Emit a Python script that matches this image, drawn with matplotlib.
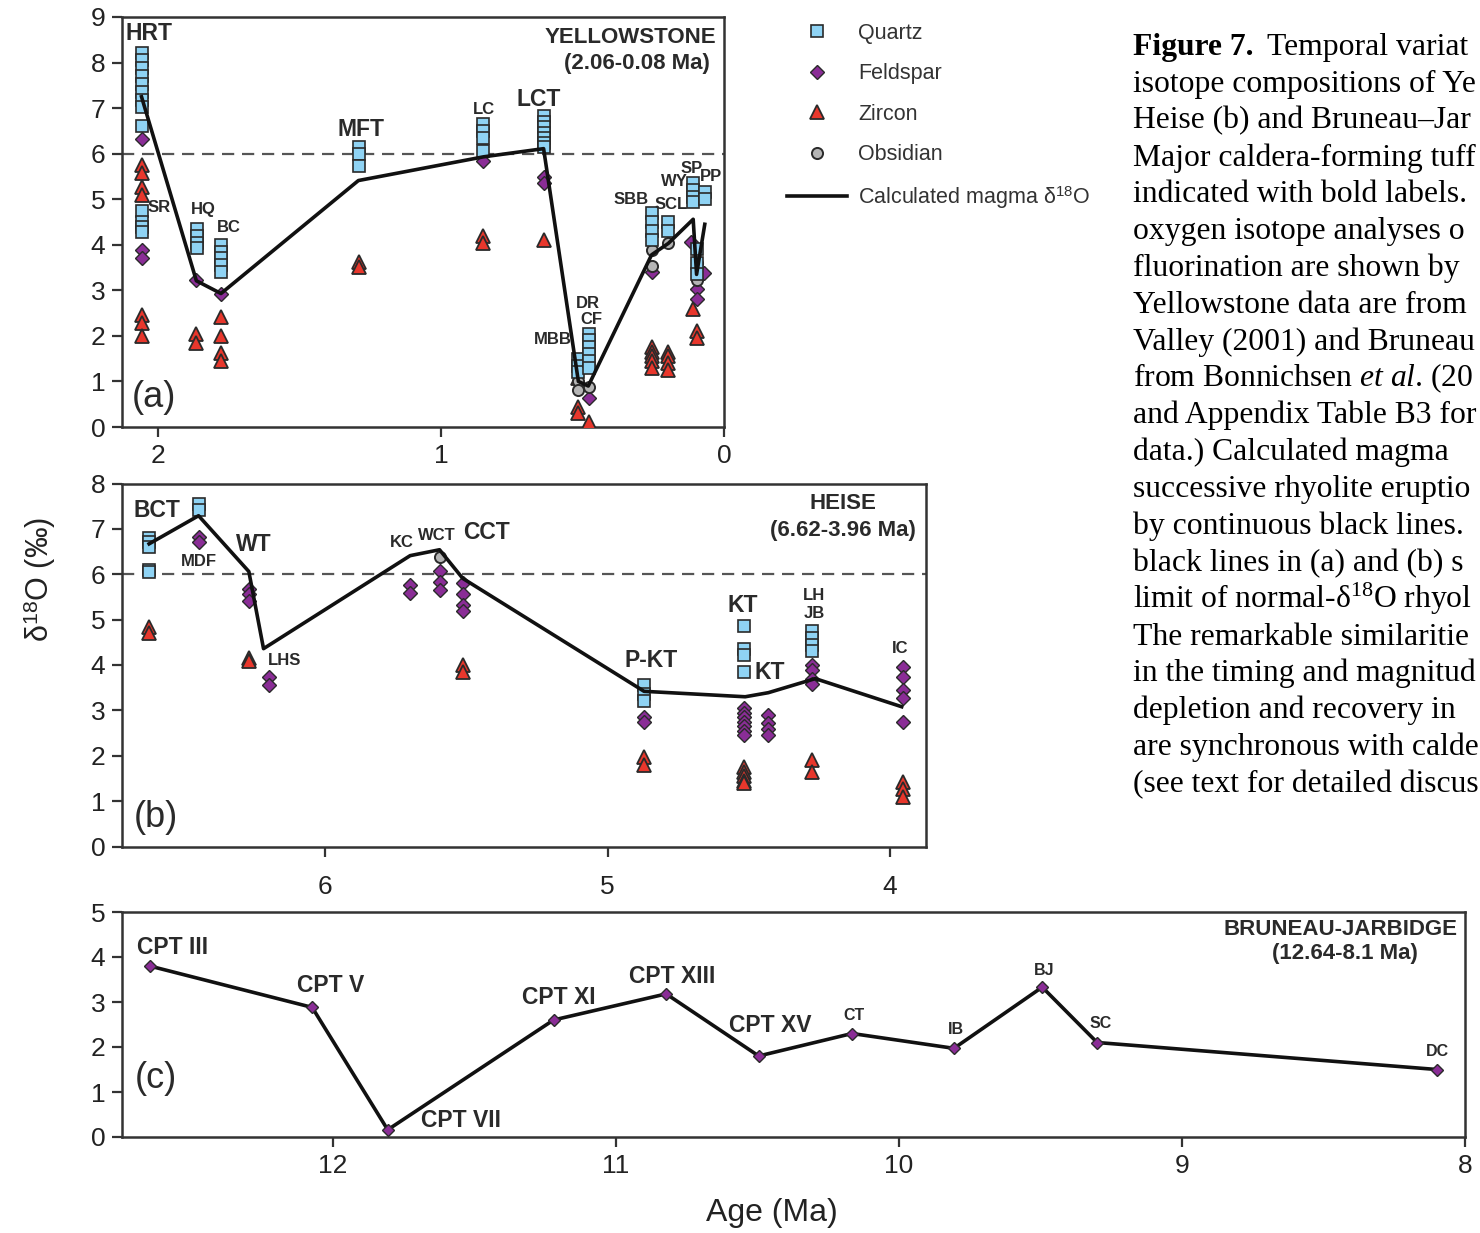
import numpy as np
import matplotlib
matplotlib.use('Agg')
import matplotlib.pyplot as plt
from matplotlib.lines import Line2D

plt.rcParams['font.family'] = ['Liberation Sans', 'DejaVu Sans']
plt.rcParams['mathtext.fontset'] = 'custom'
plt.rcParams['mathtext.rm'] = 'Liberation Serif'
plt.rcParams['mathtext.it'] = 'Liberation Serif:italic'
plt.rcParams['mathtext.bf'] = 'Liberation Serif:bold'
plt.rcParams['mathtext.sf'] = 'Liberation Sans'

# ── (a) Yellowstone ──────────────────────────────────────────────────────────
a_qtz_age = [2.06, 2.06, 1.865, 1.779, 1.29, 0.851, 0.638, 0.515, 0.478,
             0.256, 0.197, 0.108, 0.068, 0.097]
a_qtz_val = [[8.22, 8.05, 7.88, 7.70, 7.52, 7.35, 7.18, 7.02, 6.60],
             [4.75, 4.50, 4.40, 4.28],
             [4.35, 4.20, 4.05, 3.92],
             [4.00, 3.85, 3.70, 3.55, 3.40],
             [6.15, 6.00, 5.72],
             [6.65, 6.50, 6.35, 6.05],
             [6.82, 6.70, 6.58, 6.46, 6.35, 6.24, 6.14],
             [1.50, 1.35, 1.20],
             [2.05, 1.90, 1.75, 1.60, 1.45, 1.30],
             [4.70, 4.50, 4.30, 4.10],
             [4.50, 4.30],
             [5.35, 5.20, 5.05, 4.95],
             [5.15, 5.00],
             [3.90, 3.60, 3.35]]
a_fsp_age = [2.06, 1.866, 1.779, 0.851, 0.638, 0.478, 0.256, 0.115, 0.097, 0.072]
a_fsp_val = [[6.32, 3.88, 3.70], [3.22], [2.93], [5.85], [5.49, 5.35], [0.63],
             [3.40], [4.07], [3.02, 2.82], [3.39]]
a_zrc_age = [2.06, 1.866, 1.779, 1.29, 0.851, 0.638, 0.515, 0.478, 0.256,
             0.197, 0.108, 0.097]
a_zrc_val = [[5.75, 5.57, 5.27, 5.10, 2.45, 2.28, 2.00],
             [2.05, 1.85],
             [2.42, 2.00, 1.62, 1.45],
             [3.63, 3.52],
             [4.20, 4.05],
             [4.10],
             [1.07, 0.45, 0.30],
             [0.10],
             [1.75, 1.65, 1.55, 1.45, 1.30],
             [1.65, 1.55, 1.40, 1.25],
             [2.60],
             [2.10, 1.95]]
a_obs_age = [0.515, 0.478, 0.256, 0.197, 0.097]
a_obs_val = [[1.00, 0.82], [0.88], [3.88, 3.53], [4.03], [3.60, 3.23]]
a_magma_age = [2.06, 1.866, 1.779, 1.293, 0.851, 0.638, 0.515, 0.48,
               0.256, 0.197, 0.109, 0.097, 0.068]
a_magma_val = [7.25, 3.21, 2.93, 5.41, 5.93, 6.11, 1.00, 0.90,
               3.78, 4.03, 4.56, 3.35, 4.45]
a_lab_txt = ['HRT', 'SR', 'HQ', 'BC', 'MFT', 'LC', 'LCT', 'MBB', 'DR', 'CF',
             'SBB', 'SCL', 'WY', 'SP', 'PP']
a_lab_age = [2.033, 1.998, 1.842, 1.75, 1.282, 0.85, 0.655, 0.606, 0.482,
             0.468, 0.329, 0.188, 0.174, 0.113, 0.046]
a_lab_val = [8.63, 4.81, 4.78, 4.37, 6.54, 6.98, 7.20, 1.93, 2.72, 2.37,
             5.00, 4.89, 5.38, 5.68, 5.49]
a_lab_big = [True, False, False, False, True, False, True, False, False,
             False, False, False, False, False, False]

# ── (b) Heise ────────────────────────────────────────────────────────────────
b_qtz_age = [6.623, 6.448, 4.871, 4.519, 4.275]
b_qtz_val = [[6.80, 6.70, 6.60, 6.10, 6.05],
             [7.55, 7.42],
             [3.55, 3.37, 3.20],
             [4.85, 4.35, 4.22, 3.85],
             [4.74, 4.59, 4.44, 4.30]]
b_fsp_age = [6.448, 6.27, 6.2, 5.699, 5.595, 5.513, 4.871, 4.519, 4.431,
             4.275, 3.955]
b_fsp_val = [[6.82, 6.72],
             [5.68, 5.56, 5.42],
             [3.74, 3.56],
             [5.76, 5.58],
             [6.08, 5.84, 5.66],
             [5.80, 5.57, 5.33, 5.18],
             [2.86, 2.74],
             [3.05, 2.95, 2.85, 2.75, 2.65, 2.55, 2.45],
             [2.90, 2.72, 2.60, 2.45],
             [4.00, 3.88, 3.70, 3.59],
             [3.95, 3.74, 3.45, 3.27, 2.74]]
b_zrc_age = [6.623, 6.27, 5.513, 4.871, 4.519, 4.275, 3.955]
b_zrc_val = [[4.83, 4.70], [4.15, 4.08], [4.00, 3.85], [1.97, 1.80],
             [1.75, 1.65, 1.55, 1.45, 1.40], [1.90, 1.64], [1.42, 1.27, 1.10]]
b_obs_age = [5.595]
b_obs_val = [[6.38]]
b_magma_age = [6.623, 6.448, 6.27, 6.218, 5.699, 5.595, 5.513, 4.871,
               4.513, 4.431, 4.265, 3.959]
b_magma_val = [6.67, 7.29, 6.06, 4.36, 6.41, 6.54, 5.91, 3.42,
               3.30, 3.39, 3.70, 3.08]
b_lab_txt = ['BCT', 'MDF', 'WT', 'LHS', 'KC', 'WCT', 'CCT', 'P-KT', 'KT',
             'KT', 'LH', 'JB', 'IC']
b_lab_age = [6.595, 6.446, 6.251, 6.142, 5.727, 5.604, 5.427, 4.846, 4.52,
             4.425, 4.269, 4.269, 3.965]
b_lab_val = [7.41, 6.27, 6.65, 4.11, 6.69, 6.86, 6.91, 4.09, 5.32,
             3.84, 5.54, 5.14, 4.37]
b_lab_big = [True, False, True, False, False, False, True, True, True,
             True, False, False, False]

# ── (c) Bruneau-Jarbidge ─────────────────────────────────────────────────────
c_unit = ['CPT III', 'CPT V', 'CPT VII', 'CPT XI', 'CPT XIII', 'CPT XV',
          'CT', 'IB', 'BJ', 'SC', 'DC']
c_age = [12.648, 12.074, 11.807, 11.221, 10.823, 10.496, 10.166, 9.806,
         9.494, 9.30, 8.10]
c_val = [3.80, 2.88, 0.16, 2.60, 3.18, 1.80, 2.30, 1.97, 3.33, 2.10, 1.50]
c_lab_age = [12.569, 12.01, 11.548, 11.201, 10.80, 10.456, 10.159, 9.799,
             9.488, 9.286, 8.099]
c_lab_val = [4.22, 3.36, 0.36, 3.09, 3.56, 2.47, 2.69, 2.40, 3.69, 2.53, 1.91]

# caption as it shows in the cropped reference (first line split: bold head)
caption_head = "Figure 7."
caption = [
    "Temporal variat",
    "isotope compositions of Ye",
    "Heise (b) and Bruneau\u2013Jar",
    "Major caldera-forming tuff",
    "indicated with bold labels.",
    "oxygen isotope analyses o",
    "fluorination are shown by",
    "Yellowstone data are from",
    "Valley (2001) and Bruneau",
    r"from Bonnichsen $\mathit{et\ al}$. (20",
    "and Appendix Table B3 for",
    "data.) Calculated magma",
    "successive rhyolite eruptio",
    "by continuous black lines.",
    "black lines in (a) and (b) s",
    "limit of normal-\u03b4$^{18}$O rhyol",
    "The remarkable similaritie",
    "in the timing and magnitud",
    "depletion and recovery in",
    "are synchronous with calde",
    "(see text for detailed discus",
]

# ── Styles ───────────────────────────────────────────────────────────────────
EDGE = '#2a2a2a'
QTZ = dict(marker='s', ms=8, mfc='#8fd3f4', mec=EDGE, mew=1.2, ls='none')
FSP = dict(marker='D', ms=6.8, mfc='#8a2d96', mec=EDGE, mew=1.0, ls='none')
ZRC = dict(marker='^', ms=10, mfc='#e8372c', mec=EDGE, mew=1.3, ls='none')
OBS = dict(marker='o', ms=8, mfc='#b5b5b5', mec=EDGE, mew=1.4, ls='none')
TXT = '#2a2a2a'
BIG, SMALL, TITLE = 16.5, 12, 16
SERIF = ['Liberation Serif', 'DejaVu Serif']


def expand(ages, groups):
    x = np.concatenate([[a] * len(g) for a, g in zip(ages, groups)])
    y = np.concatenate(groups)
    return x, y


def style(ax, xlim, ylim, xticks, yticks):
    ax.set_xlim(*xlim)
    ax.set_ylim(*ylim)
    ax.set_xticks(xticks)
    ax.set_yticks(yticks)
    for s in ax.spines.values():
        s.set_linewidth(1.8)
        s.set_color('#333333')
    ax.tick_params(length=7, width=1.6, color='#333333', labelsize=19,
                   pad=5, labelcolor='#222222')


def draw_minerals(ax, qtz, fsp, zrc, obs):
    ax.plot(*expand(*zrc), zorder=3, **ZRC)
    ax.plot(*expand(*fsp), zorder=3, **FSP)
    ax.plot(*expand(*obs), zorder=3, **OBS)
    ax.plot(*expand(*qtz), zorder=3, **QTZ)


def draw_labels(ax, txt, age, val, big):
    for t, x, y, b in zip(txt, age, val, big):
        ax.text(x, y, t, ha='center', va='center', color=TXT,
                fontweight='bold', fontsize=BIG if b else SMALL, zorder=6)


fig = plt.figure(figsize=(14.8, 12.33), dpi=100)
L = 122 / 1480

# ── Panel (a) ────────────────────────────────────────────────────────────────
ax_a = fig.add_axes([L, 1 - 427 / 1233, (724 - 122) / 1480, 410 / 1233])
style(ax_a, (2.129, 0), (0, 9), [2, 1, 0], range(0, 10))
ax_a.axhline(6, color='#555555', lw=1.6, dashes=(5.5, 3.5), zorder=1)
draw_minerals(ax_a, (a_qtz_age, a_qtz_val), (a_fsp_age, a_fsp_val),
              (a_zrc_age, a_zrc_val), (a_obs_age, a_obs_val))
ax_a.plot(a_magma_age, a_magma_val, color='#111111', lw=2.6, zorder=4)
draw_labels(ax_a, a_lab_txt, a_lab_age, a_lab_val, a_lab_big)
ax_a.text(0.028, 8.56, 'YELLOWSTONE', ha='right', va='center', color=TXT,
          fontweight='bold', fontsize=TITLE)
ax_a.text(0.05, 7.97, '(2.06-0.08 Ma)', ha='right', va='center', color=TXT,
          fontweight='bold', fontsize=TITLE)
ax_a.text(2.093, 0.64, '(a)', ha='left', va='center', color=TXT, fontsize=26)

# ── Panel (b) ────────────────────────────────────────────────────────────────
ax_b = fig.add_axes([L, 1 - 846.5 / 1233, (926 - 122) / 1480, 363 / 1233])
style(ax_b, (6.719, 3.873), (0, 8), [6, 5, 4], range(0, 9))
ax_b.tick_params(axis='x', length=7.5, pad=13)
ax_b.axhline(6, color='#555555', lw=1.6, dashes=(5.5, 3.5), zorder=1)
draw_minerals(ax_b, (b_qtz_age, b_qtz_val), (b_fsp_age, b_fsp_val),
              (b_zrc_age, b_zrc_val), (b_obs_age, b_obs_val))
ax_b.plot(b_magma_age, b_magma_val, color='#111111', lw=2.6, zorder=4)
draw_labels(ax_b, b_lab_txt, b_lab_age, b_lab_val, b_lab_big)
ax_b.text(4.166, 7.57, 'HEISE', ha='center', va='center', color=TXT,
          fontweight='bold', fontsize=TITLE)
ax_b.text(4.166, 6.97, '(6.62-3.96 Ma)', ha='center', va='center', color=TXT,
          fontweight='bold', fontsize=TITLE)
ax_b.text(6.676, 0.63, '(b)', ha='left', va='center', color=TXT, fontsize=26)

# ── Panel (c) ────────────────────────────────────────────────────────────────
ax_c = fig.add_axes([L, 1 - 1137 / 1233, (1465 - 122) / 1480, 225 / 1233])
style(ax_c, (12.746, 8.0), (0, 5), [12, 11, 10, 9, 8], range(0, 6))
ax_c.plot(c_age, c_val, color='#111111', lw=2.6, zorder=4,
          marker='D', ms=6.5, mfc='#8a2d96', mec=EDGE, mew=1.0)
for t, x, y in zip(c_unit, c_lab_age, c_lab_val):
    big = t.startswith('CPT')
    ax_c.text(x, y, t, ha='center', va='center', color=TXT,
              fontweight='bold', fontsize=BIG if big else 11.5)
ax_c.text(8.025, 4.62, 'BRUNEAU-JARBIDGE', ha='right', va='center',
          color=TXT, fontweight='bold', fontsize=TITLE)
ax_c.text(8.424, 4.07, '(12.64-8.1 Ma)', ha='center', va='center',
          color=TXT, fontweight='bold', fontsize=TITLE)
ax_c.text(12.70, 1.29, '(c)', ha='left', va='center', color=TXT, fontsize=26)

# ── Axis titles ──────────────────────────────────────────────────────────────
fig.text(40 / 1480, 1 - 580 / 1233, 'δ$^{\\mathsf{18}}$O (‰)', rotation=90,
         ha='center', va='center', fontsize=22, color='#222222')
fig.text(772 / 1480, 1 - 1213 / 1233, 'Age (Ma)', ha='center', va='center',
         fontsize=23, color='#222222')

# ── Legend ───────────────────────────────────────────────────────────────────
handles = [Line2D([], [], **QTZ), Line2D([], [], **FSP),
           Line2D([], [], **ZRC), Line2D([], [], **OBS),
           Line2D([], [], color='#111111', lw=2.6)]
labels = ['Quartz', 'Feldspar', 'Zircon', 'Obsidian',
          'Calculated magma δ$^{\\mathsf{18}}$O']
fig.legend(handles, labels, loc='upper left',
           bbox_to_anchor=(787 / 1480, 1 - 23 / 1233), frameon=False,
           fontsize=15.5, handlelength=2.8, handletextpad=0.5,
           labelspacing=0.9, borderpad=0, borderaxespad=0,
           labelcolor='#333333')

# ── Caption ──────────────────────────────────────────────────────────────────
fig.text(1133 / 1480, 1 - 55 / 1233, caption_head, ha='left', va='baseline',
         fontsize=22.8, fontweight='bold', family=SERIF, color='black')
for i, line in enumerate(caption):
    x0 = 1267 if i == 0 else 1133
    fig.text(x0 / 1480, 1 - (55 + i * 36.85) / 1233, line,
             ha='left', va='baseline', fontsize=22.8, family=SERIF,
             color='black')

fig.savefig('out.png', dpi=100)
